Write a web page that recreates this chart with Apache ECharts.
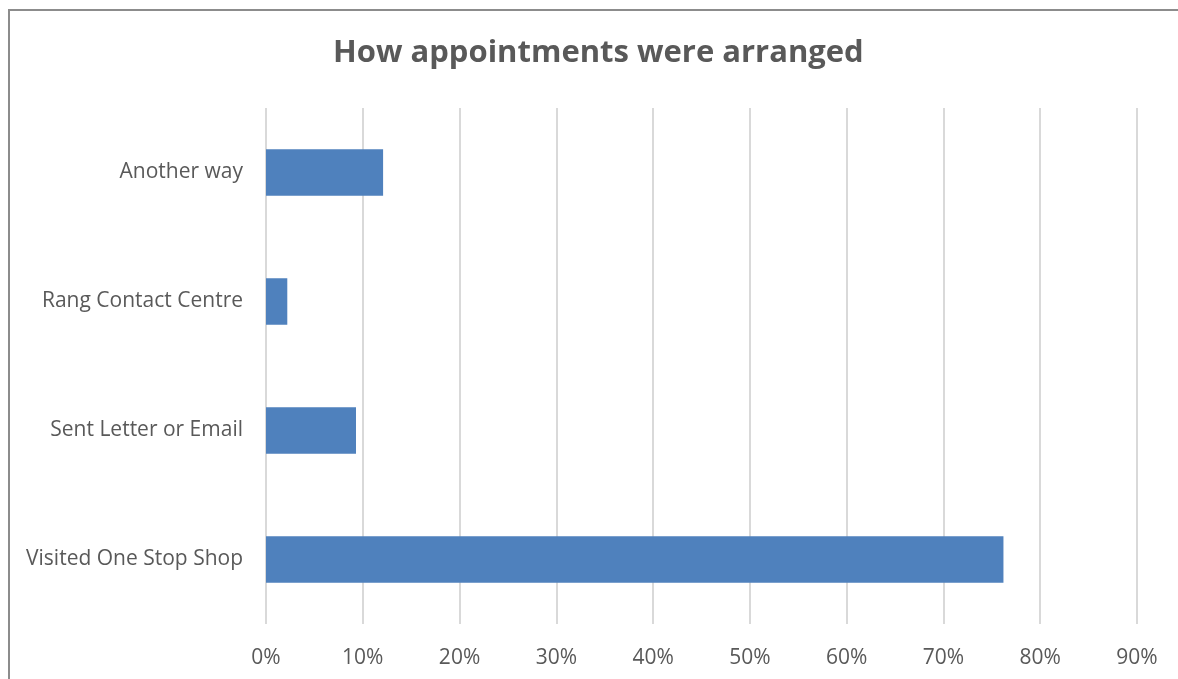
<!DOCTYPE html>
<html><head><meta charset="utf-8">
<script src="https://cdn.jsdelivr.net/npm/echarts@6/dist/echarts.min.js"></script>
<style>html,body{margin:0;padding:0;background:#fff;overflow:hidden}
#frame{position:absolute;left:8px;top:9px;width:1190px;height:690px;border:2px solid #8c8c8c;box-sizing:border-box}
#c{position:absolute;left:0;top:0;width:1178px;height:679px}</style>
</head><body>
<div id="frame"></div>
<div id="c"></div>
<script>
const categories = ["Visited One Stop Shop", "Sent Letter or Email", "Rang Contact Centre", "Another way"];
const values = [76.2, 9.3, 2.2, 12.1];
const tickLabels = ["0%","10%","20%","30%","40%","50%","60%","70%","80%","90%"];
const title = "How appointments were arranged";

const chart = echarts.init(document.getElementById('c'), null, {renderer:'canvas'});
chart.setOption({
  backgroundColor: 'transparent',
  animation: false,
  textStyle: {fontFamily: '"Open Sans", sans-serif'},
  graphic: [{
    type: 'text', left: 333, top: 38,
    style: {text: title, fill: '#595959', font: 'bold 31px "Open Sans", sans-serif'}
  }],
  grid: {left: 266, right: 41, top: 108, bottom: 55, containLabel: false},
  xAxis: {
    type: 'value', min: 0, max: 90, interval: 10,
    axisLine: {show: false}, axisTick: {show: false},
    splitLine: {lineStyle: {color: '#d9d9d9', width: 2}},
    axisLabel: {
      color: '#595959', fontSize: 21, margin: 24,
      formatter: v => tickLabels[Math.round(v/10)]
    }
  },
  yAxis: {
    type: 'category', data: categories,
    axisLine: {show: false}, axisTick: {show: false},
    axisLabel: {color: '#595959', fontSize: 21, margin: 23, padding: [5, 0, 0, 0]}
  },
  series: [{
    type: 'bar', data: values, barCategoryGap: '64%',
    itemStyle: {color: '#4f81bd'}
  }]
});
</script>
</body></html>
